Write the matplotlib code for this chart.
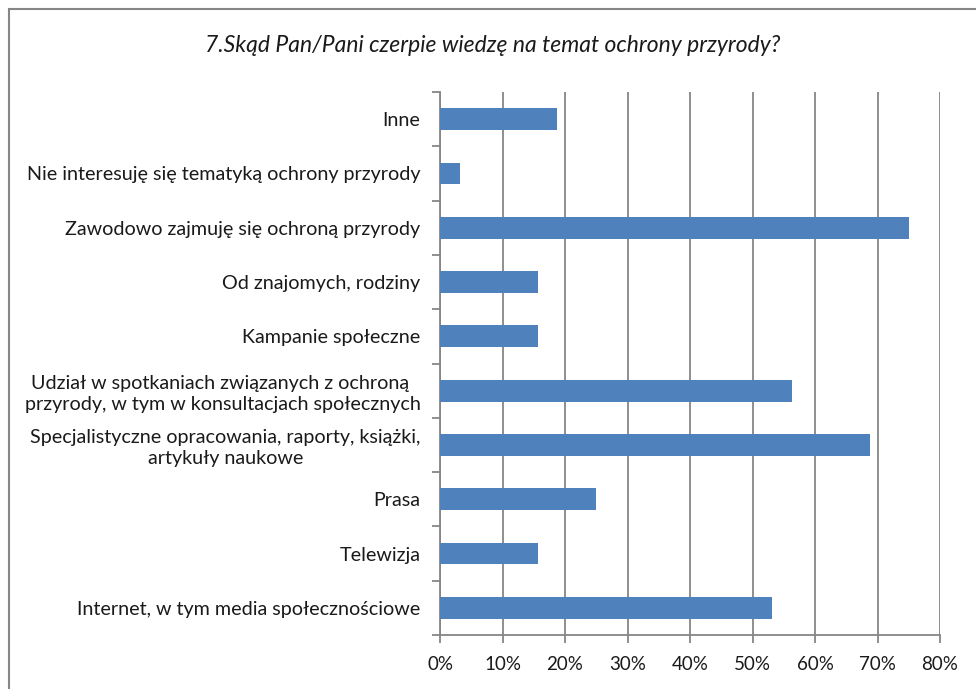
import matplotlib.pyplot as plt
import numpy as np
from matplotlib.patches import Rectangle
from matplotlib.ticker import PercentFormatter

# answers, bottom to top as drawn
categories = [
    'Internet, w tym media społecznościowe',
    'Telewizja',
    'Prasa',
    'Specjalistyczne opracowania, raporty, książki,\nartykuły naukowe',
    'Udział w spotkaniach związanych z ochroną \nprzyrody, w tym w konsultacjach społecznych',
    'Kampanie społeczne',
    'Od znajomych, rodziny',
    'Zawodowo zajmuję się ochroną przyrody',
    'Nie interesuję się tematyką ochrony przyrody',
    'Inne',
]
shares = [53.1, 15.6, 25.0, 68.75, 56.25, 15.6, 15.6, 75.0, 3.125, 18.75]
xticks = [0, 10, 20, 30, 40, 50, 60, 70, 80]

plt.rcParams['font.family'] = ['Lato', 'DejaVu Sans']
grey = '#868686'

fig = plt.figure(figsize=(9.76, 6.89), dpi=100)
ax = fig.add_axes([440/976, 1 - 635/689, 500/976, 543/689])

y = np.arange(len(categories))
ax.barh(y, shares, height=0.4, color='#4F81BD', zorder=3)

ax.set_xlim(0, 80)
ax.set_ylim(-0.5, len(categories) - 0.5)
ax.set_xticks(xticks)
ax.xaxis.set_major_formatter(PercentFormatter(decimals=0))
ax.grid(axis='x', color=grey, linewidth=1.3, zorder=0)

ax.set_yticks(y)
ax.set_yticklabels(categories, fontsize=14.2, color='#1a1a1a',
                   multialignment='center', linespacing=1.25)
ax.tick_params(axis='y', length=0, pad=14)
ax.set_yticks(np.arange(len(categories) + 1) - 0.5, minor=True)
ax.tick_params(axis='y', which='minor', length=6, color=grey, width=1.3)
ax.tick_params(axis='x', length=6, color=grey, width=1.3, labelsize=13.5,
               labelcolor='#1a1a1a', pad=9)

for s in ['top', 'right']:
    ax.spines[s].set_visible(False)
for s in ['left', 'bottom']:
    ax.spines[s].set_color(grey)
    ax.spines[s].set_linewidth(1.3)

fig.text(0.505, 1 - 45/689, '7.Skąd Pan/Pani czerpie wiedzę na temat ochrony przyrody?',
         ha='center', va='center', style='italic', fontsize=16.5, color='#1a1a1a')

# outer chart frame (left and top edges visible)
fig.patches.append(Rectangle((9/976, -0.05), 1.1, 1 - 9/689 + 0.05,
                             transform=fig.transFigure, fill=False,
                             edgecolor=grey, linewidth=1.5))

fig.savefig('out.png', dpi=100)
